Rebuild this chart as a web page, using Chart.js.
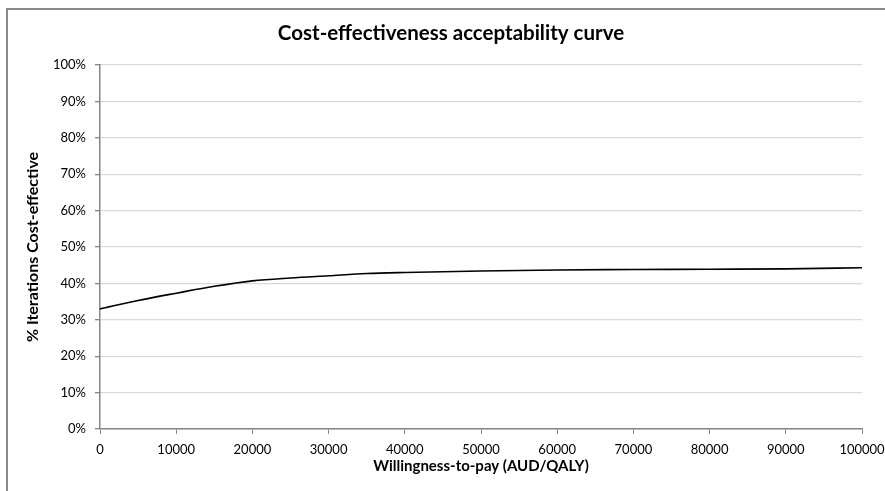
<!DOCTYPE html>
<html>
<head>
<meta charset="utf-8">
<script src="https://cdn.jsdelivr.net/npm/chart.js@4/dist/chart.umd.min.js"></script>
<style>
  body { margin: 0; background: #fff; }
  #wrap { position: relative; width: 885px; height: 491px; overflow: hidden; }
  #frame { position: absolute; left: 6px; top: 8px; width: 900px; height: 520px;
           border-left: 2px solid #8a8a8a; border-top: 2px solid #8a8a8a; }
  canvas { position: absolute; left: 0; top: 0; }
</style>
</head>
<body>
<div id="wrap">
  <div id="frame"></div>
  <canvas id="ceac" width="885" height="491"></canvas>
</div>
<script>
// CEAC values
const wtp = [0, 5000, 10000, 15000, 20000, 25000, 30000, 35000, 40000, 50000, 60000, 70000, 80000, 90000, 100000];
const pctCostEffective = [33.0, 35.3, 37.3, 39.2, 40.7, 41.5, 42.1, 42.7, 43.0, 43.4, 43.7, 43.8, 43.9, 44.0, 44.3];
const xTicks = [0, 10000, 20000, 30000, 40000, 50000, 60000, 70000, 80000, 90000, 100000];
const yTicks = [0, 10, 20, 30, 40, 50, 60, 70, 80, 90, 100];
const chartTitle = 'Cost-effectiveness acceptability curve';

const axisGrey = '#868686';
const gridGrey = '#d9d9d9';
const fontFamily = 'Lato, "Open Sans", sans-serif';

const points = wtp.map((x, i) => ({ x: x, y: pctCostEffective[i] }));

// Excel centres the title on the whole chart object, so draw it by hand
const titlePlugin = {
    id: 'excelTitle',
    afterDraw(chart) {
        const c = chart.ctx;
        c.save();
        c.font = 'bold 20.5px ' + fontFamily;
        c.fillStyle = '#000';
        c.textAlign = 'center';
        c.textBaseline = 'middle';
        c.fillText(chartTitle, 451, 33);
        c.restore();
    }
};

function initializeCeac() {
    const ctx = document.getElementById('ceac');
    new Chart(ctx.getContext('2d'), {
        type: 'line',
        data: {
            datasets: [{
                data: points,
                borderColor: '#000000',
                borderWidth: 1.6,
                pointRadius: 0,
                fill: false,
                cubicInterpolationMode: 'monotone'
            }]
        },
        options: {
            responsive: false,
            animation: false,
            devicePixelRatio: 1,
            layout: { padding: { left: 8, right: 23, top: 65, bottom: 0 } },
            plugins: {
                legend: { display: false },
                tooltip: { enabled: false },
                title: { display: false }
            },
            scales: {
                x: {
                    type: 'linear',
                    min: 0,
                    max: 100000,
                    afterBuildTicks: scale => { scale.ticks = xTicks.map(v => ({ value: v })); },
                    afterFit: scale => {
                        scale.height = 62;
                        // let the last label hang over the edge, as in the original
                        scale.paddingLeft = 0;
                        scale.paddingRight = 0;
                    },
                    grid: { drawOnChartArea: false, drawTicks: true, tickLength: 5, tickColor: axisGrey },
                    border: { color: axisGrey, width: 1.5 },
                    ticks: {
                        color: '#000',
                        font: { family: fontFamily, size: 13 },
                        maxRotation: 0,
                        padding: 8,
                        callback: v => String(v)
                    },
                    title: {
                        display: true,
                        text: 'Willingness-to-pay (AUD/QALY)',
                        color: '#000',
                        font: { family: fontFamily, size: 15, weight: 'bold' },
                        padding: { top: 0, bottom: 16 }
                    }
                },
                y: {
                    min: 0,
                    max: 100,
                    afterBuildTicks: scale => { scale.ticks = yTicks.map(v => ({ value: v })); },
                    afterFit: scale => { scale.width = 92; },
                    grid: { color: gridGrey, lineWidth: 1.3, drawTicks: true, tickLength: 5, tickColor: axisGrey },
                    border: { color: axisGrey, width: 1.5 },
                    ticks: {
                        color: '#000',
                        font: { family: fontFamily, size: 13 },
                        padding: 9,
                        callback: v => v + '%'
                    },
                    title: {
                        display: true,
                        text: '% Iterations Cost-effective',
                        color: '#000',
                        font: { family: fontFamily, size: 16, weight: 'bold' },
                        padding: { top: 15, bottom: 0 }
                    }
                }
            }
        },
        plugins: [titlePlugin]
    });
}

initializeCeac();
</script>
</body>
</html>
